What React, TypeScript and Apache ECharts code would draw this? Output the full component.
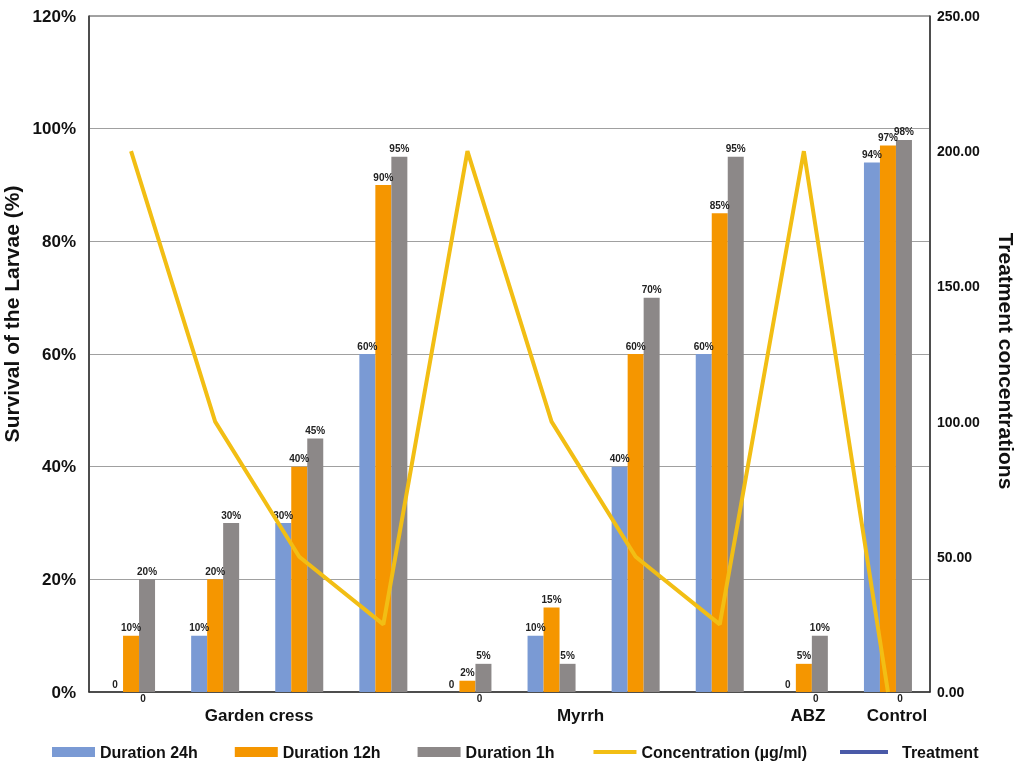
import React, { useEffect, useRef } from "react";
import * as echarts from "echarts";

const categories = ["", "Garden cress", "", "", "", "Myrrh", "", "", "ABZ", "Control"];
const duration24h = [0, 10, 30, 60, 0, 10, 40, 60, 0, 94];
const duration12h = [10, 20, 40, 90, 2, 15, 60, 85, 5, 97];
const duration1h = [20, 30, 45, 95, 5, 5, 70, 95, 10, 98];
const concentration = [200, 100, 50, 25, 200, 100, 50, 25, 200, 0];
const treatment = [0, null, null, null, 0, null, null, null, 0, 0];
const leftTicks = [0, 120, 20];
const rightTicks = [0, 250, 50];

const labelShift: Record<number, number> = { 1: 88, 5: 58, 8: 8, 9: 18 };

const FONT = "'Liberation Sans', Arial, sans-serif";

export default function App() {
  const ref = useRef<HTMLDivElement>(null);
  useEffect(() => {
    if (!ref.current) return;
    const chart = echarts.init(ref.current, null, { renderer: "svg" });
    const rich: any = {};
    Object.keys(labelShift).forEach((k) => {
      rich["s" + k] = {
        padding: [0, 0, 0, labelShift[Number(k)]],
        fontSize: 17,
        fontWeight: "bold",
        color: "#111",
        fontFamily: FONT,
      };
    });
    const barLabel = {
      show: true,
      position: "top",
      distance: 3,
      fontSize: 10,
      fontWeight: "bold",
      color: "#222",
      fontFamily: FONT,
      formatter: (p: any) => (p.value === 0 ? "0" : p.value + "%"),
    };
    const legendText = { fontSize: 16, fontWeight: "bold", color: "#111", fontFamily: FONT };
    chart.setOption({
      animation: false,
      textStyle: { fontFamily: FONT },
      grid: {
        left: 89,
        right: 94,
        top: 16,
        bottom: 71,
        outerBoundsMode: "none",
        containLabel: false,
        show: true,
        borderColor: "#444",
        borderWidth: 1,
      },
      legend: [
        {
          top: 739,
          left: 47,
          itemWidth: 43,
          itemHeight: 10,
          itemGap: 37,
          textStyle: legendText,
          data: [
            { name: "Duration 24h", icon: "rect" },
            { name: "Duration 12h", icon: "rect" },
            { name: "Duration 1h", icon: "rect" },
            {
              name: "Concentration (µg/ml)",
              itemStyle: { opacity: 0 },
              lineStyle: { color: "#f2be14", width: 4, opacity: 1 },
            },
          ],
        },
        {
          top: 739,
          left: 833,
          itemWidth: 48,
          itemHeight: 10,
          textStyle: { ...legendText, padding: [0, 0, 0, 9] },
          data: [
            {
              name: "Treatment",
              lineStyle: { color: "#4a5aa8", width: 4, opacity: 1 },
              itemStyle: { opacity: 0 },
            },
          ],
        },
      ],
      xAxis: {
        type: "category",
        data: categories,
        axisLine: { lineStyle: { color: "#333", width: 1.5 } },
        axisTick: { show: false },
        axisLabel: {
          interval: 0,
          margin: 15,
          formatter: (v: string, i: number) => (v ? `{s${i}|${v}}` : ""),
          rich,
        },
      },
      yAxis: [
        {
          type: "value",
          min: leftTicks[0],
          max: leftTicks[1],
          interval: leftTicks[2],
          name: "Survival of the Larvae (%)",
          nameLocation: "middle",
          nameGap: 56,
          nameTextStyle: {
            fontSize: 21,
            fontWeight: "bold",
            color: "#111",
            fontFamily: FONT,
            padding: [0, 0, 0, 80],
          },
          axisLine: { show: true, lineStyle: { color: "#333", width: 1.5 } },
          axisTick: { show: false },
          axisLabel: {
            formatter: "{value}%",
            fontSize: 17,
            fontWeight: "bold",
            color: "#111",
            margin: 13,
            fontFamily: FONT,
          },
          splitLine: { show: true, lineStyle: { color: "#a0a0a0", width: 1 } },
        },
        {
          type: "value",
          min: rightTicks[0],
          max: rightTicks[1],
          interval: rightTicks[2],
          name: "Treatment concentrations",
          nameLocation: "middle",
          nameGap: 66,
          nameRotate: -90,
          nameTextStyle: {
            fontSize: 21,
            fontWeight: "bold",
            color: "#111",
            fontFamily: FONT,
            padding: [0, 0, 0, 14],
          },
          axisLine: { show: true, lineStyle: { color: "#333", width: 1.5 } },
          axisTick: { show: false },
          axisLabel: {
            formatter: (v: number) => v.toFixed(2),
            fontSize: 14,
            fontWeight: "bold",
            color: "#111",
            margin: 7,
            fontFamily: FONT,
          },
          splitLine: { show: false },
        },
      ],
      series: [
        {
          name: "Duration 24h",
          type: "bar",
          data: duration24h,
          barWidth: 16,
          barGap: "0%",
          itemStyle: { color: "#7a9ad4" },
          label: barLabel,
        },
        {
          name: "Duration 12h",
          type: "bar",
          data: duration12h,
          barWidth: 16,
          barGap: "0%",
          itemStyle: { color: "#f59600" },
          label: barLabel,
        },
        {
          name: "Duration 1h",
          type: "bar",
          data: duration1h,
          barWidth: 16,
          barGap: "0%",
          itemStyle: { color: "#8c8888" },
          label: barLabel,
        },
        {
          name: "Concentration (µg/ml)",
          type: "line",
          yAxisIndex: 1,
          data: concentration,
          symbol: "none",
          lineStyle: { color: "#f2be14", width: 4 },
          itemStyle: { color: "#f2be14" },
          z: 5,
        },
        {
          name: "Treatment",
          type: "line",
          yAxisIndex: 1,
          data: treatment,
          symbol: "circle",
          symbolSize: 1,
          showSymbol: true,
          lineStyle: { color: "#4a5aa8", width: 4, opacity: 0 },
          itemStyle: { color: "rgba(255,255,255,0)" },
          label: {
            show: true,
            position: "bottom",
            distance: 1,
            offset: [12, 0],
            fontSize: 10,
            fontWeight: "bold",
            color: "#222",
            fontFamily: FONT,
            formatter: (p: any) => String(p.value),
          },
          z: 6,
        },
      ],
    });
    return () => chart.dispose();
  }, []);
  return (
    <div
      ref={ref}
      style={{ position: "fixed", left: 0, top: 0, width: 1024, height: 763 }}
    />
  );
}
